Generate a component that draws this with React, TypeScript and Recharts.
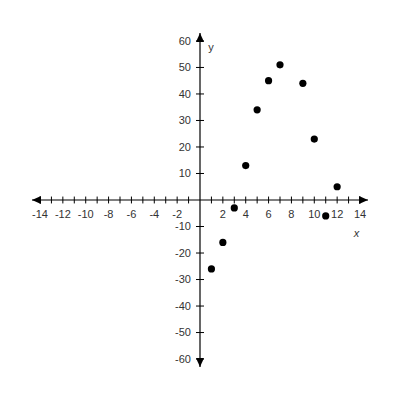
import React from "react";
import {
  ScatterChart,
  Scatter,
  XAxis,
  YAxis,
  ReferenceLine,
  ReferenceDot,
} from "recharts";

const xValues = [1, 2, 3, 4, 5, 6, 7, 9, 10, 11, 12];
const yValues = [-26, -16, -3, 13, 34, 45, 51, 44, 23, -6, 5];

const xTicks = [
  -14, -13, -12, -11, -10, -9, -8, -7, -6, -5, -4, -3, -2, -1, 1, 2, 3, 4, 5,
  6, 7, 8, 9, 10, 11, 12, 13, 14,
];
const xLabels = [-14, -12, -10, -8, -6, -4, -2, 2, 4, 6, 8, 10, 12, 14];
const yTicks = [-60, -50, -40, -30, -20, -10, 10, 20, 30, 40, 50, 60];

const data = xValues.map((x, i) => ({ x, y: yValues[i] }));

const FONT = "'Liberation Sans', Arial, sans-serif";
const labelStyle = { fill: "#333", fontSize: 11, fontFamily: FONT };

function ArrowLine(props: any) {
  const { x1, y1, x2, y2 } = props;
  const len = 9;
  const half = 4;
  const horizontal = Math.abs(y1 - y2) < 0.5;
  let heads;
  if (horizontal) {
    const l = Math.min(x1, x2);
    const r = Math.max(x1, x2);
    heads = (
      <>
        <polygon points={`${l},${y1} ${l + len},${y1 - half} ${l + len},${y1 + half}`} fill="#000" />
        <polygon points={`${r},${y1} ${r - len},${y1 - half} ${r - len},${y1 + half}`} fill="#000" />
      </>
    );
  } else {
    const t = Math.min(y1, y2);
    const b = Math.max(y1, y2);
    heads = (
      <>
        <polygon points={`${x1},${t} ${x1 - half},${t + len} ${x1 + half},${t + len}`} fill="#000" />
        <polygon points={`${x1},${b} ${x1 - half},${b - len} ${x1 + half},${b - len}`} fill="#000" />
      </>
    );
  }
  return (
    <g>
      <line x1={x1} y1={y1} x2={x2} y2={y2} stroke="#000" strokeWidth={1.2} />
      {heads}
    </g>
  );
}

export default function App() {
  return (
    <div style={{ fontFamily: FONT }}>
      <ScatterChart
        width={392}
        height={392}
        margin={{ top: 25, right: 32, bottom: 33, left: 24 }}
      >
        <XAxis type="number" dataKey="x" domain={[-14.7, 14.7]} hide allowDataOverflow />
        <YAxis type="number" dataKey="y" domain={[-63, 63]} hide allowDataOverflow />

        <ReferenceLine y={0} shape={ArrowLine} />
        <ReferenceLine x={0} shape={ArrowLine} />

        {xTicks.map((v) => (
          <ReferenceLine
            key={`xt${v}`}
            segment={[
              { x: v, y: -1.3 },
              { x: v, y: 1.3 },
            ]}
            stroke="#000"
            strokeWidth={1}
          />
        ))}
        {yTicks.map((v) => (
          <ReferenceLine
            key={`yt${v}`}
            segment={[
              { x: -0.35, y: v },
              { x: 0.35, y: v },
            ]}
            stroke="#000"
            strokeWidth={1}
          />
        ))}
        {xLabels.map((v) => (
          <ReferenceDot
            key={`xl${v}`}
            x={v}
            y={0}
            r={0}
            fill="none"
            stroke="none"
            label={{ value: String(v), position: "bottom", offset: 10, ...labelStyle }}
          />
        ))}
        {yTicks.map((v) => (
          <ReferenceDot
            key={`yl${v}`}
            x={0}
            y={v}
            r={0}
            fill="none"
            stroke="none"
            label={{ value: String(v), position: "left", offset: 9, ...labelStyle }}
          />
        ))}
        <ReferenceDot
          x={13.7}
          y={-12.3}
          r={0}
          fill="none"
          stroke="none"
          label={{ value: "x", position: "center", ...labelStyle, fontStyle: "italic" }}
        />
        <ReferenceDot
          x={0.96}
          y={57.8}
          r={0}
          fill="none"
          stroke="none"
          label={{ value: "y", position: "center", ...labelStyle }}
        />

        <Scatter
          data={data}
          isAnimationActive={false}
          shape={(p: any) => <circle cx={p.cx} cy={p.cy} r={3.6} fill="#000" />}
        />
      </ScatterChart>
    </div>
  );
}
